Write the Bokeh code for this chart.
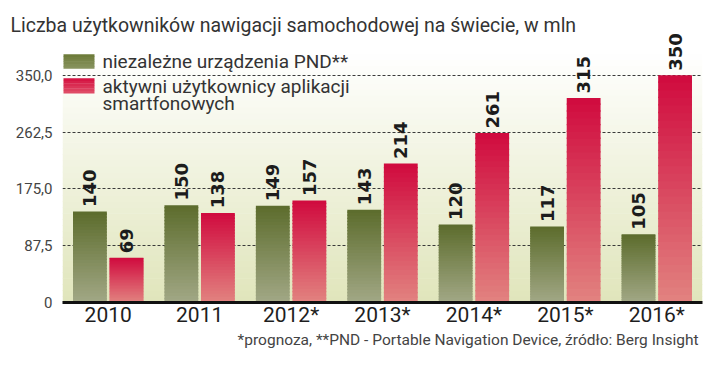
import numpy as np
from bokeh.plotting import figure
from bokeh.models import ColumnDataSource, Range1d, FactorRange, FixedTicker, Label, BoxAnnotation, Title
from bokeh.transform import dodge
from bokeh.core.properties import value
from bokeh.embed import file_html
from bokeh.resources import INLINE

# ---- data ----
years = ["2010", "2011", "2012*", "2013*", "2014*", "2015*", "2016*"]
pnd = [140, 150, 149, 143, 120, 117, 105]
apps = [69, 138, 157, 214, 261, 315, 350]
y_ticks = [0, 87.5, 175, 262.5, 350]
y_tick_labels = ["0", "87,5", "175,0", "262,5", "350,0"]
title_text = "Liczba użytkowników nawigacji samochodowej na świecie, w mln"
legend_pnd = "niezależne urządzenia PND**"
legend_apps = ["aktywni użytkownicy aplikacji", "smartfonowych"]
footnote = "*prognoza, **PND - Portable Navigation Device, źródło: Berg Insight"

# ---- styles ----
FONT = "Roboto"
Y_MAX = 419
W, H = 720, 369


def hex2rgb(h):
    h = h.lstrip("#")
    return np.array([int(h[i:i + 2], 16) for i in (0, 2, 4)], dtype=float)


def mix(c1, c2, t):
    c = hex2rgb(c1) * (1 - t) + hex2rgb(c2) * t
    return "#%02x%02x%02x" % tuple(int(round(v)) for v in c)


p = figure(width=W, height=H,
           x_range=FactorRange(*years, range_padding=0),
           y_range=Range1d(0, Y_MAX),
           output_backend="svg", toolbar_location=None,
           min_border_left=62, min_border_right=18,
           min_border_top=30, min_border_bottom=67)
p.outline_line_color = None
p.background_fill_color = "white"
p.border_fill_color = "white"

# title
p.title.text = title_text
p.title.text_font = FONT
p.title.text_font_size = "19.5px"
p.title.text_font_style = "normal"
p.title.text_color = "#333333"
p.title.align = "left"
p.title.offset = -52
p.title.standoff = -13
p.title.vertical_align = "bottom"

# background gradient (white at top -> pale olive-cream at bottom)
NB = 46
for i in range(NB):
    lo = Y_MAX * i / NB
    hi = Y_MAX * (i + 1) / NB
    t = min(1.0, (i + 0.5) / NB / 0.92)
    p.add_layout(BoxAnnotation(bottom=lo, top=hi + 1.0,
                               fill_color=mix("#e0e5bb", "#ffffff", t),
                               fill_alpha=1.0, line_color=None, level="image"))

# grid
p.xgrid.visible = False
p.ygrid.ticker = FixedTicker(ticks=y_ticks)
p.ygrid.grid_line_color = "#3a3a3a"
p.ygrid.grid_line_dash = "3 2"
p.ygrid.grid_line_width = 1

# bars with vertical per-bar gradient
NSEG = 30


def gradient_bars(vals, offset, top_col, bot_col):
    xs, bots, tops, cols = [], [], [], []
    for yr, v in zip(years, vals):
        for k in range(NSEG):
            b = v * k / NSEG
            t = v * (k + 1) / NSEG
            xs.append(yr)
            bots.append(b)
            tops.append(t + (2.0 if k < NSEG - 1 else 0))
            cols.append(mix(bot_col, top_col, (k + 0.5) / NSEG))
    src = ColumnDataSource(dict(x=xs, bottom=bots, top=tops, color=cols))
    p.vbar(x=dodge("x", offset, range=p.x_range), bottom="bottom", top="top",
           width=0.37, fill_color="color", line_color=None, source=src)


gradient_bars(pnd, -0.2, "#5c6c2c", "#a2a886")
gradient_bars(apps, 0.2, "#d00a3e", "#e28380")

# value labels
for off, vals in ((-0.2, pnd), (0.2, apps)):
    s = ColumnDataSource(dict(x=years, y=[v + 7 for v in vals], txt=[str(v) for v in vals]))
    p.text(x=dodge("x", off, range=p.x_range), y="y", text="txt", source=s,
           angle=np.pi / 2, text_align="left", text_baseline="middle",
           text_font=value("DejaVu Sans"), text_font_style="bold",
           text_font_size="18px", text_color="#1c1c1c")

# axes
p.xaxis.axis_line_width = 3
p.xaxis.axis_line_color = "#111111"
p.xaxis.major_tick_line_color = None
p.xaxis.minor_tick_line_color = None
p.xaxis.major_tick_out = 0
p.xaxis.major_tick_in = 0
p.xaxis.major_label_text_font = FONT
p.xaxis.major_label_text_font_size = "21px"
p.xaxis.major_label_text_color = "#1e1e1e"
p.xaxis.major_label_standoff = 0

p.yaxis.ticker = FixedTicker(ticks=y_ticks)
p.yaxis.major_label_overrides = {t: l for t, l in zip(y_ticks, y_tick_labels)}
p.yaxis.axis_line_color = None
p.yaxis.major_tick_line_color = None
p.yaxis.minor_tick_line_color = None
p.yaxis.major_tick_out = 0
p.yaxis.major_tick_in = 0
p.yaxis.major_label_text_font = FONT
p.yaxis.major_label_text_font_size = "15px"
p.yaxis.major_label_text_color = "#444444"
p.yaxis.major_label_standoff = 10

# legend (drawn by hand)


def swatch(x0, x1, y0, y1, top_col, bot_col):
    n = 6
    for k in range(n):
        b = y0 + (y1 - y0) * k / n
        t = y0 + (y1 - y0) * (k + 1) / n
        p.add_layout(BoxAnnotation(left=x0, right=x1, bottom=b, top=t + 0.5,
                                   left_units="screen", right_units="screen",
                                   fill_color=mix(bot_col, top_col, (k + 0.5) / n),
                                   fill_alpha=1.0, line_color=None, level="overlay"))


swatch(1, 32, 360, 382, "#6b7a38", "#8a9460")
swatch(1, 32, 322, 345, "#d4103f", "#e0506a")

for txt, yb in ((legend_pnd, 372), (legend_apps[0], 332), (legend_apps[1], 306)):
    p.add_layout(Label(x=40, y=yb, x_units="screen", text=txt, text_font=FONT,
                       text_font_size="19px", text_color="#333333",
                       text_baseline="alphabetic"))

# footnote
foot = Title(text=footnote, align="right", text_font=FONT, text_font_size="15.5px",
             text_font_style="normal", text_color="#444444", offset=4, standoff=-1)
p.add_layout(foot, "below")

open("out.html", "w").write(file_html(p, INLINE))
